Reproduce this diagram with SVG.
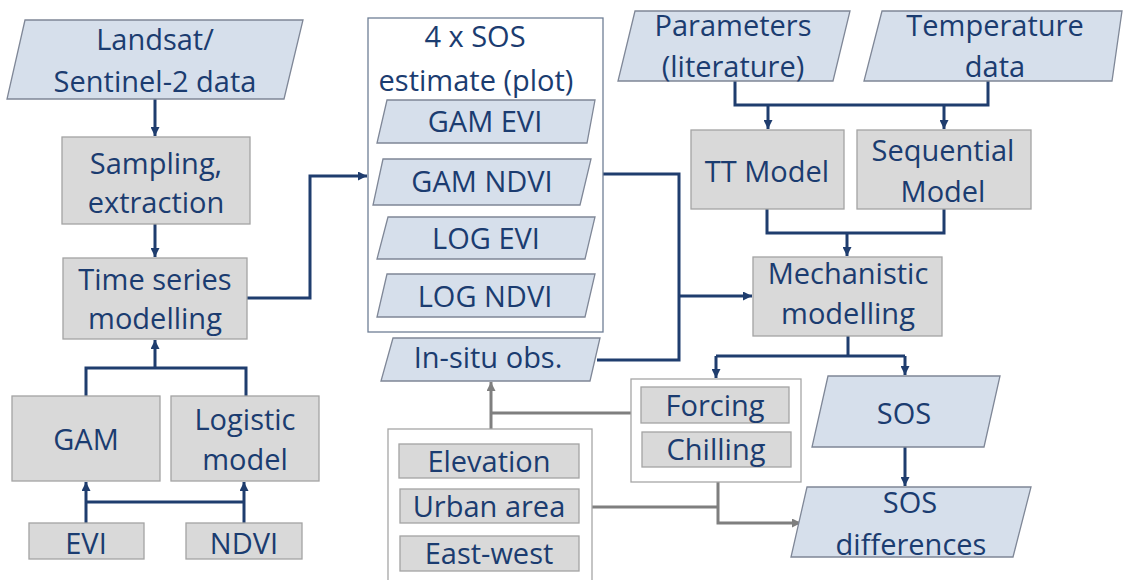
<svg xmlns="http://www.w3.org/2000/svg" width="1131" height="580" viewBox="0 0 1131 580">
<style>
text{font-family:"Open Sans","Liberation Sans",sans-serif;font-weight:400;fill:#1b3c70;text-anchor:middle;font-size:29px}
.para{fill:#d6dfeb;stroke:#7f8797;stroke-width:1.3}
.box{fill:#d9d9d9;stroke:#a3a3a3;stroke-width:1.3}
.cont{fill:#ffffff;stroke:#a6a6a6;stroke-width:1.3}
.cont2{fill:#ffffff;stroke:#6f7f96;stroke-width:1.3}
.nv{fill:none;stroke:#1f3d6e;stroke-width:3}
.gy{fill:none;stroke:#7f7f7f;stroke-width:3}
</style>
<defs>
<marker id="an" markerUnits="userSpaceOnUse" markerWidth="9" markerHeight="9" refX="9" refY="4.5" orient="auto"><path d="M0,0 L9,4.5 L0,9 z" fill="#1f3d6e"/></marker>
<marker id="ag" markerUnits="userSpaceOnUse" markerWidth="9" markerHeight="9" refX="9" refY="4.5" orient="auto"><path d="M0,0 L9,4.5 L0,9 z" fill="#7f7f7f"/></marker>
</defs>
<rect width="1131" height="580" fill="#ffffff"/>
<g id="connectors">
<path class="nv" d="M155,99 V136" marker-end="url(#an)"/>
<path class="nv" d="M155,224 V257" marker-end="url(#an)"/>
<path class="nv" d="M247,298 H310 V176 H367" marker-end="url(#an)"/>
<path class="nv" d="M86,396 V368 H246 V396"/>
<path class="nv" d="M155,368 V340" marker-end="url(#an)"/>
<path class="nv" d="M86,523 V482" marker-end="url(#an)"/>
<path class="nv" d="M244,523 V482" marker-end="url(#an)"/>
<path class="nv" d="M86,502 H244"/>
<path class="nv" d="M603,174 H679 V360 H597"/>
<path class="nv" d="M679,296 H752" marker-end="url(#an)"/>
<path class="nv" d="M735,81 V105 H988 V81"/>
<path class="nv" d="M768,105 V129" marker-end="url(#an)"/>
<path class="nv" d="M944,105 V129" marker-end="url(#an)"/>
<path class="nv" d="M767,209 V233 H944 V209"/>
<path class="nv" d="M847,233 V256" marker-end="url(#an)"/>
<path class="nv" d="M848,336 V356"/>
<path class="nv" d="M716,356 H905"/>
<path class="nv" d="M716,356 V378" marker-end="url(#an)"/>
<path class="nv" d="M905,356 V375" marker-end="url(#an)"/>
<path class="nv" d="M905,447 V486" marker-end="url(#an)"/>
<path class="gy" d="M491,429 V382" marker-end="url(#ag)"/>
<path class="gy" d="M491,413 H631"/>
<path class="gy" d="M592,507 H718"/>
<path class="gy" d="M718,482 V523 H801" marker-end="url(#ag)"/>
</g>
<g id="landsat">
<polygon class="para" points="25,20 303,20 284,99 7,99"/>
<text x="155" y="50">Landsat/</text>
<text x="155" y="92">Sentinel-2 data</text>
</g>
<g id="sampling">
<rect class="box" x="62" y="137" width="188" height="87"/>
<text x="156" y="174">Sampling,</text>
<text x="156" y="213">extraction</text>
</g>
<g id="timeseries">
<rect class="box" x="63" y="258" width="184" height="81"/>
<text x="155" y="290">Time series</text>
<text x="155" y="329">modelling</text>
</g>
<g id="gam">
<rect class="box" x="12" y="396" width="148" height="85"/>
<text x="86" y="450">GAM</text>
</g>
<g id="logistic">
<rect class="box" x="171" y="396" width="148" height="85"/>
<text x="245" y="430">Logistic</text>
<text x="245" y="470">model</text>
</g>
<g id="evi">
<rect class="box" x="29" y="523" width="115" height="36"/>
<text x="86" y="554">EVI</text>
</g>
<g id="ndvi">
<rect class="box" x="186" y="523" width="116" height="36"/>
<text x="244" y="554">NDVI</text>
</g>
<g id="sos4">
<rect class="cont2" x="368" y="18" width="235" height="314"/>
<text x="475" y="47">4 x SOS</text>
<text x="476" y="91">estimate (plot)</text>
</g>
<g id="gamevi">
<polygon class="para" points="387,100 595,100 587,143 377,143"/>
<text x="485" y="132">GAM EVI</text>
</g>
<g id="gamndvi">
<polygon class="para" points="383,159 591,159 580,205 373,205"/>
<text x="482" y="192">GAM NDVI</text>
</g>
<g id="logevi">
<polygon class="para" points="388,217 595,217 585,259 377,259"/>
<text x="486" y="249">LOG EVI</text>
</g>
<g id="logndvi">
<polygon class="para" points="387,274 595,274 585,317 377,317"/>
<text x="485" y="307">LOG NDVI</text>
</g>
<g id="insitu">
<polygon class="para" points="393,338 600,338 590,381 381,381"/>
<text x="488" y="368" font-size="22">In-situ obs.</text>
</g>
<g id="env">
<rect class="cont" x="388" y="429" width="204" height="160"/>
<rect class="box" x="399" y="444" width="180" height="34"/>
<text x="489" y="472">Elevation</text>
<rect class="box" x="400" y="489" width="179" height="34"/>
<text x="489" y="517">Urban area</text>
<rect class="box" x="400" y="536" width="179" height="35"/>
<text x="489" y="564">East-west</text>
</g>
<g id="forcing">
<rect class="cont" x="631" y="379" width="170" height="103"/>
<rect class="box" x="641" y="387" width="148" height="36"/>
<text x="715" y="416">Forcing</text>
<rect class="box" x="642" y="432" width="149" height="35"/>
<text x="716" y="460">Chilling</text>
</g>
<g id="params">
<polygon class="para" points="635,11 850,11 833,81 618,81"/>
<text x="733" y="36">Parameters</text>
<text x="733" y="77">(literature)</text>
</g>
<g id="temp">
<polygon class="para" points="882,11 1122,11 1112,81 864,81"/>
<text x="995" y="36">Temperature</text>
<text x="995" y="77">data</text>
</g>
<g id="tt">
<rect class="box" x="691" y="130" width="153" height="79"/>
<text x="767" y="182">TT Model</text>
</g>
<g id="sequential">
<rect class="box" x="857" y="130" width="174" height="79"/>
<text x="943" y="161">Sequential</text>
<text x="943" y="202">Model</text>
</g>
<g id="mechanistic">
<rect class="box" x="753" y="257" width="189" height="79"/>
<text x="848" y="284">Mechanistic</text>
<text x="848" y="324">modelling</text>
</g>
<g id="sos">
<polygon class="para" points="828,376 1000,376 984,447 812,447"/>
<text x="904" y="424">SOS</text>
</g>
<g id="sosdiff">
<polygon class="para" points="807,487 1031,487 1013,557 791,557"/>
<text x="910" y="513">SOS</text>
<text x="911" y="555">differences</text>
</g>
</svg>
